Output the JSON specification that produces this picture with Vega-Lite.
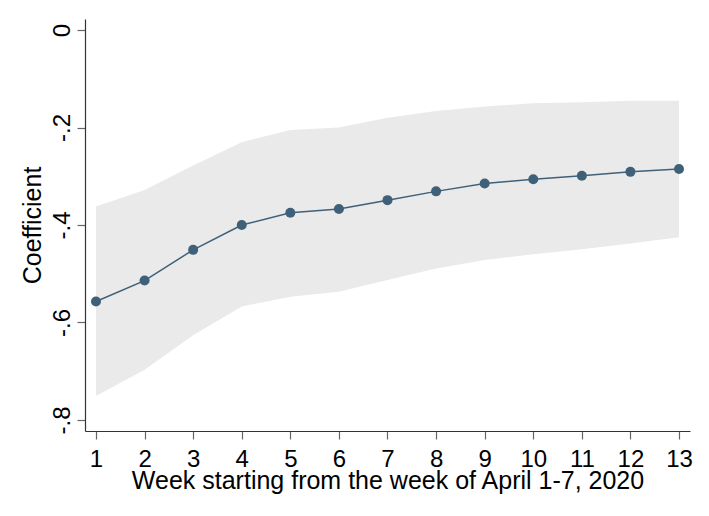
{
  "$schema": "https://vega.github.io/schema/vega-lite/v6.json",
  "autosize": "none",
  "padding": {"left": 85, "top": 19, "right": 19, "bottom": 85},
  "width": 605,
  "height": 412,
  "background": "white",
  "config": {
    "view": {"stroke": null},
    "font": "Liberation Sans",
    "axis": {
      "grid": false,
      "domainColor": "#333333",
      "domainWidth": 1.2,
      "tickColor": "#666666",
      "tickSize": 8,
      "tickWidth": 1.2,
      "labelFontSize": 24,
      "titleFontSize": 25,
      "labelColor": "black",
      "titleColor": "black",
      "titleFontWeight": "normal"
    }
  },
  "data": {
    "values": [
      {"week": 1, "coef": -0.557, "lo": -0.751, "hi": -0.362},
      {"week": 2, "coef": -0.514, "lo": -0.697, "hi": -0.328},
      {"week": 3, "coef": -0.451, "lo": -0.626, "hi": -0.278},
      {"week": 4, "coef": -0.400, "lo": -0.567, "hi": -0.230},
      {"week": 5, "coef": -0.375, "lo": -0.547, "hi": -0.205},
      {"week": 6, "coef": -0.367, "lo": -0.537, "hi": -0.200},
      {"week": 7, "coef": -0.349, "lo": -0.513, "hi": -0.180},
      {"week": 8, "coef": -0.331, "lo": -0.489, "hi": -0.166},
      {"week": 9, "coef": -0.315, "lo": -0.472, "hi": -0.157},
      {"week": 10, "coef": -0.306, "lo": -0.460, "hi": -0.150},
      {"week": 11, "coef": -0.299, "lo": -0.450, "hi": -0.148},
      {"week": 12, "coef": -0.291, "lo": -0.438, "hi": -0.145},
      {"week": 13, "coef": -0.285, "lo": -0.425, "hi": -0.145}
    ]
  },
  "encoding": {
    "x": {
      "field": "week",
      "type": "quantitative",
      "scale": {"domain": [0.774, 13.226], "nice": false, "zero": false},
      "axis": {
        "values": [1, 2, 3, 4, 5, 6, 7, 8, 9, 10, 11, 12, 13],
        "format": "d",
        "labelPadding": 8,
        "titlePadding": -3,
        "title": "Week starting from the week of April 1-7, 2020"
      }
    }
  },
  "layer": [
    {
      "mark": {"type": "area", "color": "#eaeaea", "opacity": 1},
      "encoding": {
        "y": {
          "field": "lo",
          "type": "quantitative",
          "scale": {"domain": [-0.8226, 0.0226], "nice": false, "zero": false},
          "axis": {
            "values": [0, -0.2, -0.4, -0.6, -0.8],
            "labelExpr": "datum.value == 0 ? '0' : '-.' + format(abs(datum.value) * 10, '.0f')",
            "labelAngle": 270,
            "labelAlign": "center",
            "labelBaseline": "alphabetic",
            "labelPadding": 8,
            "titlePadding": 5,
            "title": "Coefficient"
          }
        },
        "y2": {"field": "hi"}
      }
    },
    {
      "mark": {"type": "rule", "color": "black", "strokeWidth": 1.5},
      "encoding": {"y": {"datum": 0, "type": "quantitative"}}
    },
    {
      "mark": {
        "type": "line",
        "color": "#3e6079",
        "strokeWidth": 1.5,
        "point": {"filled": true, "size": 100, "color": "#3e6079", "opacity": 1}
      },
      "encoding": {
        "y": {"field": "coef", "type": "quantitative"}
      }
    }
  ]
}
